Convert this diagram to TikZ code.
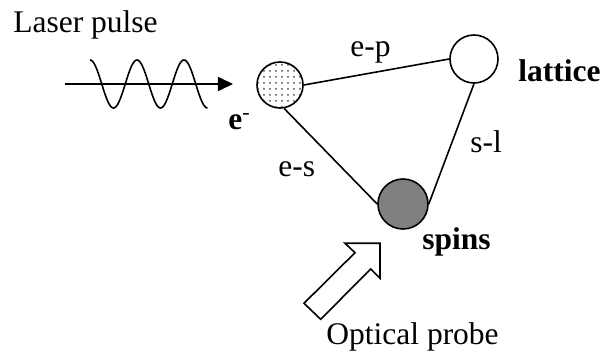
\documentclass[tikz,border=0pt]{standalone}
\usepackage{fontspec}
\setmainfont{Liberation Serif}
\usetikzlibrary{arrows.meta,patterns}
\begin{document}
\begin{tikzpicture}[x=0.5pt,y=-0.5pt,
  lbl/.style={anchor=base west,inner sep=0pt,font=\fontsize{15.75}{18}\selectfont},
  blbl/.style={lbl,font=\fontsize{15.75}{18}\selectfont\bfseries},
  ball/.style={circle,draw,line width=0.8pt,inner sep=0pt},
  conn/.style={line width=0.8pt}]
\useasboundingbox (0,0) rectangle (602,353);
% circles
\node[ball,minimum size=23pt,pattern=dots,pattern color=black!70] (e) at (280,85) {};
\node[ball,minimum size=24pt,fill=white] (lat) at (474,59) {};
\node[ball,minimum size=25pt,fill=black!50] (sp) at (403,204) {};
% connectors
\draw[conn] (e.east) -- (lat.west);
\draw[conn] (e.-80) -- (sp.west);
\draw[conn] (lat.south) -- (sp.east);
% labels
\node[lbl] (lp) at (13,33) {Laser pulse};
\node[lbl] (ep) at (350,57) {e-p};
\node[lbl] (es) at (278,177) {e-s};
\node[lbl] (sl) at (470,153) {s-l};
\node[blbl] (el) at (228,130) {e\textsuperscript{\mdseries -}};
\node[blbl] (latl) at (518,82) {lattice};
\node[blbl] (spl) at (422,250) {spins};
\node[lbl] (op) at (326,345) {Optical probe};
% laser pulse arrow and wave
\coordinate (ls) at (65,84);
\coordinate (le) at (233,84);
\draw[conn,-{Triangle[length=7.5pt,width=7pt]}] (ls) -- (le);
\draw[conn,domain=0:15.708,samples=120,smooth] plot ({90+\x*47/6.2832},{84-24*cos(\x r)});
% optical probe block arrow
\draw[conn,fill=white,line join=miter]
  (380,243.3) -- (345,243.3) -- (355,252.7) -- (304,303.3) -- (320.7,319.3)
  -- (370.7,269) -- (380,278.3) -- cycle;
\end{tikzpicture}
\end{document}
